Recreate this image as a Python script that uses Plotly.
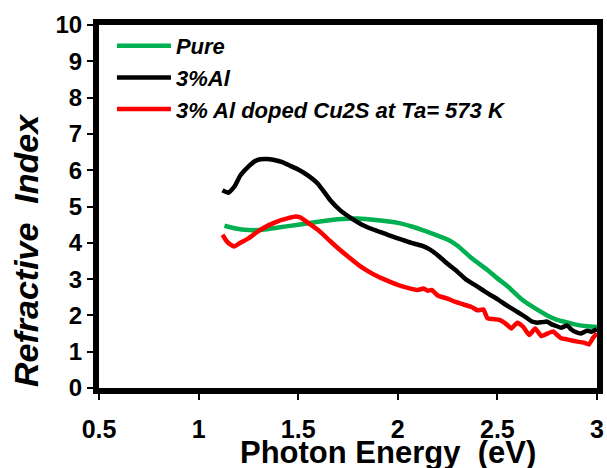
import plotly.graph_objects as go

# ---- data ----
pure_x = [1.13, 1.18, 1.25, 1.32, 1.40, 1.50, 1.60, 1.70, 1.80, 1.90, 2.00, 2.07, 2.14, 2.20,
          2.25, 2.30, 2.37, 2.45, 2.50, 2.55, 2.62, 2.67, 2.75, 2.80, 2.84, 2.90, 2.95, 3.00]
pure_y = [4.47, 4.40, 4.35, 4.36, 4.42, 4.50, 4.58, 4.65, 4.67, 4.62, 4.55, 4.45, 4.32, 4.20,
          4.09, 3.92, 3.58, 3.25, 3.02, 2.81, 2.45, 2.26, 2.00, 1.88, 1.82, 1.74, 1.70, 1.68]

al_x = [1.12, 1.13, 1.15, 1.18, 1.21, 1.25, 1.28, 1.31, 1.34, 1.38, 1.42, 1.46, 1.50, 1.55,
        1.60, 1.66, 1.71, 1.76, 1.82, 1.87, 1.91, 1.96, 2.00, 2.04, 2.08, 2.12, 2.16, 2.20,
        2.25, 2.30, 2.34, 2.38, 2.42, 2.46, 2.50, 2.54, 2.59, 2.62, 2.64, 2.67, 2.70, 2.72,
        2.75, 2.77, 2.79, 2.82, 2.85, 2.87, 2.89, 2.92, 2.95, 2.97, 3.00]
al_y = [5.45, 5.42, 5.38, 5.55, 5.86, 6.10, 6.24, 6.30, 6.31, 6.28, 6.22, 6.12, 6.02, 5.85,
        5.62, 5.18, 4.90, 4.70, 4.50, 4.38, 4.30, 4.20, 4.12, 4.05, 3.98, 3.92, 3.82, 3.66,
        3.42, 3.20, 3.00, 2.86, 2.72, 2.58, 2.45, 2.30, 2.13, 2.03, 1.96, 1.84, 1.80, 1.81,
        1.83, 1.76, 1.72, 1.66, 1.72, 1.62, 1.55, 1.50, 1.58, 1.55, 1.62]

ann_x = [1.12, 1.14, 1.16, 1.18, 1.21, 1.25, 1.30, 1.35, 1.40, 1.45, 1.48, 1.51, 1.55, 1.60,
         1.66, 1.70, 1.75, 1.80, 1.85, 1.90, 1.95, 2.00, 2.05, 2.10, 2.13, 2.15, 2.17, 2.20,
         2.25, 2.29, 2.33, 2.37, 2.40, 2.43, 2.45, 2.48, 2.51, 2.54, 2.57, 2.60, 2.63, 2.66,
         2.69, 2.72, 2.75, 2.78, 2.80, 2.82, 2.85, 2.88, 2.91, 2.94, 2.96, 2.98, 3.00]
ann_y = [4.22, 4.05, 3.95, 3.90, 4.00, 4.12, 4.32, 4.48, 4.60, 4.68, 4.72, 4.70, 4.55, 4.35,
         4.05, 3.85, 3.62, 3.40, 3.22, 3.07, 2.95, 2.84, 2.76, 2.70, 2.74, 2.68, 2.70, 2.55,
         2.46, 2.37, 2.30, 2.23, 2.14, 2.16, 1.92, 1.90, 1.88, 1.78, 1.64, 1.80, 1.68, 1.46,
         1.64, 1.43, 1.50, 1.56, 1.46, 1.37, 1.34, 1.30, 1.27, 1.24, 1.20, 1.38, 1.50]

series_names = ["Pure", "3%Al", "3% Al doped Cu2S at Ta= 573 K"]
series_colors = ["#00B050", "#000000", "#FF0000"]

x_title = "Photon Energy\u00a0\u00a0(eV)"
y_title = "Refractive\u00a0\u00a0Index"

FONT = "Arial, 'Liberation Sans', sans-serif"
L, R, T, B, W, H = 99, 10, 25, 80, 607, 468
PW, PH = W - L - R, H - T - B
def px(x): return (x - L) / PW
def py(y): return (H - B - y) / PH

fig = go.Figure()
for (xs, ys), name, col in zip([(pure_x, pure_y), (al_x, al_y), (ann_x, ann_y)],
                               series_names, series_colors):
    fig.add_trace(go.Scatter(x=xs, y=ys, mode="lines", name=name,
                             line=dict(color=col, width=4.5, shape="spline", smoothing=0.4)))

fig.update_layout(
    width=W, height=H,
    margin=dict(l=L, r=R, t=T, b=B, autoexpand=False),
    paper_bgcolor="white", plot_bgcolor="white",
    font=dict(family=FONT, color="black"),
    showlegend=True,
    legend=dict(x=0.026, y=1.0, xanchor="left", yanchor="top", traceorder="normal",
                bgcolor="rgba(0,0,0,0)", itemwidth=54, tracegroupgap=0,
                font=dict(family=FONT, size=22, weight="bold", style="italic", color="black")),
    annotations=[
        dict(text=x_title, xref="paper", yref="paper", x=px(388), y=py(452),
             xanchor="center", yanchor="middle", showarrow=False,
             font=dict(family=FONT, size=31, weight="bold", color="black")),
        dict(text=y_title, xref="paper", yref="paper", x=px(26), y=py(250),
             xanchor="center", yanchor="middle", showarrow=False, textangle=-90,
             font=dict(family=FONT, size=34, weight="bold", style="italic", color="black")),
    ],
)
fig.update_xaxes(
    range=[0.5, 3], dtick=0.5, tick0=0.5, showgrid=False, zeroline=False, automargin=False,
    showline=True, linecolor="black", linewidth=6, mirror=True,
    ticks="outside", ticklen=6, tickwidth=1.5, tickcolor="black", ticklabelstandoff=8,
    tickfont=dict(family=FONT, size=25, weight="bold"),
)
fig.update_yaxes(
    range=[0, 10], dtick=1, showgrid=False, zeroline=False, automargin=False,
    showline=True, linecolor="black", linewidth=6, mirror=True,
    ticks="outside", ticklen=6, tickwidth=1.5, tickcolor="black",
    tickfont=dict(family=FONT, size=24, weight="bold"),
)

fig.write_html("out.html")
